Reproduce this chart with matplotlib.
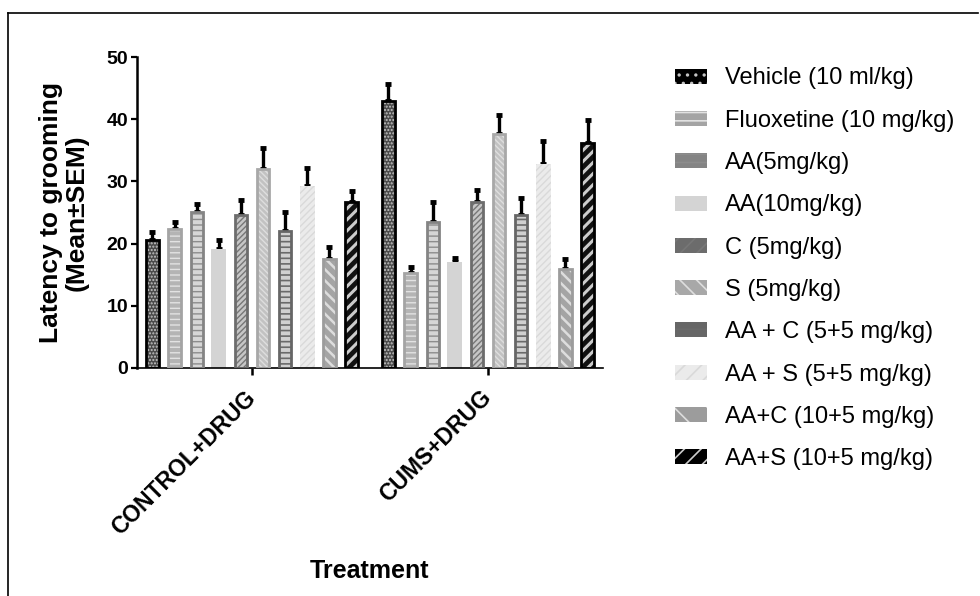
import numpy as np
import matplotlib
matplotlib.use("Agg")
import matplotlib.pyplot as plt
import matplotlib.patches as mpatches
import matplotlib.transforms as mtransforms
from matplotlib.lines import Line2D

plt.rcParams['font.family'] = ['Liberation Sans', 'DejaVu Sans']
plt.rcParams['hatch.linewidth'] = 1.2

groups = ['CONTROL+DRUG', 'CUMS+DRUG']
treatments = ['Vehicle (10 ml/kg)', 'Fluoxetine (10 mg/kg)', 'AA(5mg/kg)', 'AA(10mg/kg)',
              'C (5mg/kg)', 'S (5mg/kg)', 'AA + C (5+5 mg/kg)', 'AA + S (5+5 mg/kg)',
              'AA+C (10+5 mg/kg)', 'AA+S (10+5 mg/kg)']

control_mean = [20.5, 22.4, 25.1, 19.1, 24.6, 32.0, 22.1, 29.3, 17.5, 26.7]
control_sem = [1.3, 1.0, 1.3, 1.5, 2.4, 3.3, 3.0, 2.8, 1.9, 1.8]
cums_mean = [42.9, 15.2, 23.4, 17.0, 26.7, 37.7, 24.6, 32.8, 15.9, 36.1]
cums_sem = [2.7, 1.1, 3.3, 0.7, 1.9, 3.0, 2.8, 3.7, 1.7, 3.8]

# face, hatch colour, hatch, edge colour (None = no outline), hatch width
styles = [
    ('#4a4a4a', '#c4c4c4', '.....', 'black', 1.0),
    ('#b4b4b4', '#e2e2e2', '---', '#a4a4a4', 1.0),
    ('#d6d6d6', '#8c8c8c', '---', '#848484', 1.0),
    ('#d4d4d4', None, '', None, 1.0),
    ('#c6c6c6', '#777777', '//////', '#6c6c6c', 1.0),
    ('#c2c2c2', '#dedede', '\\\\\\\\\\\\', '#a8a8a8', 1.0),
    ('#d0d0d0', '#6a6a6a', '---', '#666666', 1.2),
    ('#ebebeb', '#d9d9d9', '/////', None, 1.0),
    ('#a4a4a4', '#dddddd', '\\\\\\', '#9c9c9c', 1.8),
    ('#111111', '#cccccc', '///', 'black', 2.2),
]


def set_hatch_width(patch, hw):
    if hasattr(patch, 'set_hatch_linewidth'):
        patch.set_hatch_linewidth(hw)


fig = plt.figure(figsize=(9.8, 5.96), dpi=100)
ax = fig.add_axes([137 / 980, 228 / 596, 466 / 980, 311 / 596])

x = np.arange(len(groups))
pitch = 0.0937
edge_lw = 2.0

for i, (face, hcol, hatch, edge, hw) in enumerate(styles):
    xs = x + (i - 4.5) * pitch
    vals = [control_mean[i], cums_mean[i]]
    errs = [control_sem[i], cums_sem[i]]
    w = 0.052 if edge else 0.064
    bars = ax.bar(xs, vals, w, color=face, edgecolor=hcol if hcol else face,
                  hatch=hatch, linewidth=0, zorder=2)
    for b in bars:
        set_hatch_width(b, hw)
    if edge:
        ax.bar(xs, vals, w, facecolor='none', edgecolor=edge,
               linewidth=edge_lw, zorder=3)
    # drawn under the bars so only the upper half of each error bar shows
    ax.errorbar(xs, vals, yerr=[np.zeros(2), errs], fmt='none', ecolor='black',
                elinewidth=2.4, capsize=2.5, capthick=3.5, zorder=1.5)

ax.set_xlim(-0.487, 1.487)
ax.set_ylim(0, 50)
ax.set_yticks(np.arange(0, 51, 10))
ax.set_xticks(x)
ax.set_xticklabels(groups, rotation=45, ha='right', va='center', rotation_mode='anchor',
                   fontsize=16.5, fontweight='bold')
shift = mtransforms.ScaledTranslation(-7 / 100, -4 / 100, fig.dpi_scale_trans)
for lbl in ax.get_xticklabels():
    lbl.set_transform(lbl.get_transform() + shift)
for lbl in ax.get_yticklabels():
    lbl.set_fontweight('bold')
    lbl.set_fontsize(14)

ax.spines['top'].set_visible(False)
ax.spines['right'].set_visible(False)
ax.spines['left'].set_linewidth(1.8)
ax.spines['bottom'].set_linewidth(1.2)
ax.tick_params(axis='y', length=4.5, width=1.6, pad=2)
ax.tick_params(axis='x', length=5, width=1.8, pad=14)

ax.set_ylabel('Latency to grooming\n(Mean\u00b1SEM)', fontsize=19, fontweight='bold',
              linespacing=1.05, labelpad=13)
ax.set_xlabel('Treatment', fontsize=18, fontweight='bold', labelpad=14)

handles = []
for face, hcol, hatch, edge, hw in styles:
    h = mpatches.Patch(facecolor=edge if edge else face,
                       edgecolor=hcol if hcol else face, hatch=hatch.replace('\\\\\\', '\\')[:2],
                       linewidth=0)
    set_hatch_width(h, hw)
    handles.append(h)
fig.legend(handles, treatments, loc='upper left', bbox_to_anchor=(666 / 980, 1 - 58 / 596),
           frameon=False, fontsize=17, handlelength=1.35, handleheight=0.6,
           handletextpad=0.75, labelspacing=0.86, borderaxespad=0)

# outer frame
fig.add_artist(Line2D([8 / 980, 8 / 980], [0, 1 - 13 / 596], color='black', lw=1.2))
fig.add_artist(Line2D([8 / 980, 978 / 980], [1 - 13 / 596, 1 - 13 / 596], color='black', lw=1.2))

fig.savefig('out.png', dpi=100)
